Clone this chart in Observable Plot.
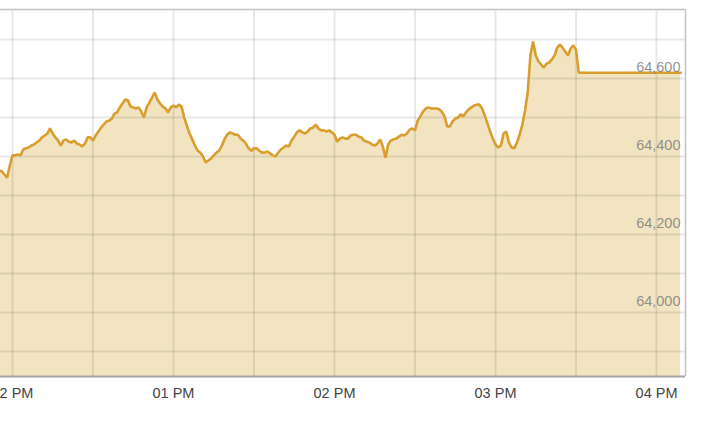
<!DOCTYPE html>
<html>
<head>
<meta charset="utf-8">
<script src="https://cdn.jsdelivr.net/npm/d3@7"></script>
<script src="https://cdn.jsdelivr.net/npm/@observablehq/plot@0.6"></script>
<style>
  html, body { margin: 0; padding: 0; background: #fff; }
  body { font-family: "Liberation Sans", Arial, sans-serif; }
  #chart svg { display: block; }
</style>
</head>
<body>
<div id="chart"></div>
<script>
// ---- data (one value per minute, starting 11:55) ----
const seriesStart = "11:55";
const values = [
  64364, 64362, 64354, 64346, 64377,
  64403, 64403, 64405, 64403, 64418, 64421, 64423, 64428, 64431, 64436,
  64441, 64449, 64454, 64459, 64472, 64459, 64449, 64441, 64428, 64441,
  64444, 64438, 64436, 64441, 64433, 64431, 64426, 64433, 64449, 64449,
  64441, 64454, 64464, 64474, 64482, 64490, 64492, 64497, 64510, 64513,
  64526, 64536, 64546, 64544, 64528, 64526, 64523, 64526, 64515, 64500,
  64526, 64538, 64551, 64564, 64546, 64536, 64528, 64523, 64513, 64526,
  64531, 64526, 64533, 64528, 64500, 64479, 64459, 64444, 64428, 64415,
  64410, 64400, 64385, 64390, 64395, 64403, 64410, 64415, 64428, 64444,
  64456, 64462, 64459, 64456, 64456, 64446, 64441, 64433, 64421, 64415,
  64421, 64421, 64415, 64410, 64410, 64413, 64408, 64403, 64400, 64410,
  64418, 64423, 64428, 64426, 64441, 64451, 64462, 64467, 64462, 64459,
  64464, 64472, 64474, 64482, 64472, 64467, 64467, 64464, 64467, 64462,
  64456, 64438, 64446, 64449, 64446, 64446, 64454, 64456, 64456, 64451,
  64449, 64441, 64438, 64436, 64431, 64428, 64433, 64444, 64426, 64397,
  64431, 64441, 64444, 64446, 64451, 64456, 64454, 64459, 64469, 64472,
  64467, 64492, 64503, 64515, 64523, 64526, 64523, 64523, 64523, 64521,
  64515, 64503, 64477, 64477, 64490, 64497, 64500, 64508, 64503, 64513,
  64521, 64526, 64531, 64533, 64533, 64523, 64505, 64485, 64464, 64446,
  64431, 64423, 64428, 64459, 64464, 64436, 64423, 64421, 64436, 64456,
  64482, 64518, 64564, 64659, 64695, 64659, 64644, 64636, 64628, 64638,
  64641, 64649, 64659, 64679, 64687, 64679, 64669, 64659, 64677, 64685,
  64674, 64615
];
const closeTime = "16:09";
const closeValue = 64615;

const hourTicks = ["12:00", "13:00", "14:00", "15:00", "16:00"];
const gridTimes = ["12:00", "12:30", "13:00", "13:30", "14:00", "14:30", "15:00", "15:30", "16:00"];
const gridValues = [63900, 64000, 64100, 64200, 64300, 64400, 64500, 64600, 64700];
const labelValues = [64000, 64200, 64400, 64600];
const xDomain = ["11:55:32", "16:10:48"];
const yDomain = [63836, 64777];

// ---- helpers ----
function t(s) {
  const [h, m, sec = 0] = s.split(":").map(Number);
  return new Date(2024, 0, 2, h, m, sec);
}
const t0 = t(seriesStart);
const data = values.map((v, i) => ({ time: new Date(+t0 + i * 60000), value: v }));
data.push({ time: t(closeTime), value: closeValue });

const lineColor = "#d89e2e";
const fillColor = "#f2e4c1";
const fs = "14.5px";

const chart = Plot.plot({
  width: 710,
  height: 426,
  marginLeft: 0,
  marginRight: 25,
  marginTop: 9,
  marginBottom: 50,
  style: { fontFamily: '"Liberation Sans", Arial, sans-serif', background: "#fff" },
  x: { type: "time", domain: xDomain.map(t) },
  y: { domain: yDomain, axis: null },
  marks: [
    Plot.areaY(data, { x: "time", y1: yDomain[0], y2: "value", fill: fillColor, clip: true }),
    Plot.ruleX(gridTimes.map(t), { stroke: "#000", strokeOpacity: 0.09, strokeWidth: 2 }),
    Plot.ruleY(gridValues, { stroke: "#000", strokeOpacity: 0.09, strokeWidth: 2 }),
    Plot.lineY(data, { x: "time", y: "value", stroke: lineColor, strokeWidth: 2.6, strokeLinejoin: "miter", clip: true }),
    Plot.text(labelValues, {
      y: d => d,
      text: d => d3.format(",")(d),
      frameAnchor: "right",
      textAnchor: "end",
      dx: -5,
      dy: -11,
      fill: "#777",
      fillOpacity: 0.8,
      fontSize: fs
    }),
    Plot.ruleY([yDomain[1]], { stroke: "#c2c2c2", strokeWidth: 1.5 }),
    Plot.ruleX([t(xDomain[1])], { stroke: "#c2c2c2", strokeWidth: 1.5 }),
    Plot.ruleY([yDomain[0]], { stroke: "#a3a3a3", strokeWidth: 2 }),
    Plot.axisX(hourTicks.map(t), {
      tickSize: 0,
      tickPadding: 11,
      tickFormat: d3.timeFormat("%I %p"),
      fill: "#444",
      fontSize: fs
    })
  ]
});
document.getElementById("chart").appendChild(chart);
</script>
</body>
</html>
